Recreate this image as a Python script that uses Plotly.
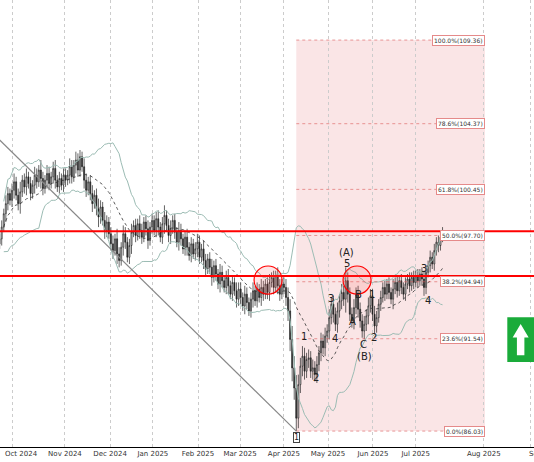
import pandas as pd
import plotly.graph_objects as go

# daily closes, Sep 23 2024 .. Jul 18 2025 (bar index = position)
closes = [97.5, 98.2, 99.0, 99.6, 100.2, 99.8,
          # Oct
          100.4, 100.9, 100.1, 99.6, 100.3, 101.0, 100.6, 101.2, 100.8, 100.2, 100.7, 101.3, 100.9,
          101.6, 101.1, 100.5, 101.0, 101.4, 100.8, 101.2, 101.7, 101.0, 100.6, 101.1, 100.7, 101.3,
          # Nov
          101.0, 101.3, 101.8, 101.2, 101.9, 102.2, 101.6, 102.4, 101.8, 101.0, 100.4, 100.9, 100.2,
          99.6, 100.1, 99.3, 98.8, 99.4, 98.6, 98.0, 98.5, 97.8,
          # Dec
          97.2, 96.8, 97.5, 96.6, 96.2, 97.0, 97.8, 97.3, 96.4, 97.1, 97.9, 98.3, 97.7, 98.4, 98.0,
          97.6, 98.5, 98.1, 97.4, 98.2, 98.6,
          # Jan
          98.0, 98.7, 98.2, 97.6, 98.4, 98.9, 98.3, 97.7, 98.1, 98.6, 97.9, 97.3, 98.0, 97.5, 96.9,
          97.6, 97.0, 96.5, 97.2, 96.6, 96.9, 97.3,
          # Feb
          96.4, 96.9, 96.2, 95.7, 96.3, 95.8, 95.2, 95.9, 95.4, 94.8, 95.5, 95.0, 94.6, 95.2, 94.7,
          94.2, 94.9, 94.4, 93.9, 94.5,
          # Mar
          94.0, 93.5, 94.2, 93.7, 93.2, 93.9, 94.4, 93.8, 94.5, 94.0, 94.6, 94.2, 94.8, 94.3, 94.9,
          95.2, 94.6, 95.3, 94.7, 94.2, 94.8,
          # Apr
          94.6, 94.0, 93.2, 91.5, 89.8, 88.6, 86.8, 88.8, 89.9, 90.5, 89.6, 90.3, 90.4, 89.6, 89.8,
          89.4, 90.0, 90.7, 91.4, 91.0, 91.7,
          # May
          92.0, 92.8, 93.6, 93.0, 92.4, 93.2, 93.8, 94.3, 93.9, 95.0, 94.2, 93.0, 92.6, 93.4, 94.2,
          93.3, 92.6, 92.0, 92.4, 92.9, 93.5, 94.1,
          # Jun
          93.0, 92.3, 92.8, 93.6, 94.0, 94.6, 94.2, 94.8, 94.3, 93.9, 94.5, 94.9, 94.4, 95.0, 94.6,
          94.2, 94.8, 95.1, 94.7, 95.2, 94.9,
          # Jul
          95.3, 95.0, 95.4, 95.1, 94.6, 95.5, 95.9, 96.4, 96.0, 96.8, 97.3, 97.1, 97.6, 97.9]

wicks = [0.3, 0.4, 0.3, 0.5, 0.4, 0.3,
         0.4, 0.5, 0.3, 0.4, 0.6, 0.3, 0.4, 0.5, 0.3, 0.4, 0.3, 0.5, 0.4, 0.3, 0.6, 0.4, 0.3,
         0.5, 0.4, 0.3, 0.4, 0.5, 0.3, 0.4, 0.3, 0.4,
         0.4, 0.3, 0.5, 0.4, 0.3, 0.5, 0.4, 0.4, 0.3, 0.5, 0.4, 0.3, 0.4, 0.5, 0.3, 0.4, 0.6, 0.4,
         0.3, 0.5, 0.4, 0.3,
         0.4, 0.5, 0.3, 0.6, 0.4, 0.3, 0.5, 0.4, 0.3, 0.4, 0.5, 0.3, 0.4, 0.3, 0.5, 0.4, 0.3, 0.4,
         0.5, 0.3, 0.4,
         0.3, 0.4, 0.5, 0.3, 0.4, 0.6, 0.3, 0.4, 0.5, 0.3, 0.4, 0.3, 0.5, 0.4, 0.3, 0.4, 0.5, 0.3,
         0.4, 0.3, 0.4, 0.5,
         0.4, 0.3, 0.5, 0.4, 0.3, 0.4, 0.5, 0.3, 0.4, 0.3, 0.5, 0.4, 0.3, 0.4, 0.5, 0.3, 0.4, 0.3,
         0.5, 0.4,
         0.4, 0.3, 0.5, 0.4, 0.3, 0.4, 0.5, 0.3, 0.4, 0.3, 0.5, 0.4, 0.3, 0.4, 0.5, 0.3, 0.4, 0.3,
         0.5, 0.4, 0.3,
         0.4, 0.5, 0.6, 0.7, 0.8, 0.7, 0.77, 0.6, 0.5, 0.6, 0.5, 0.4, 0.5, 0.4, 0.5, 0.4, 0.5, 0.4,
         0.5, 0.4, 0.5,
         0.4, 0.5, 0.4, 0.5, 0.4, 0.5, 0.4, 0.5, 0.4, 0.8, 0.5, 0.4, 0.4, 0.5, 0.4, 0.5, 0.4, 0.4,
         0.5, 0.4, 0.5, 0.4,
         0.4, 0.5, 0.4, 0.3, 0.4, 0.3, 0.4, 0.3, 0.4, 0.3, 0.6, 0.3, 0.4, 0.3, 0.4, 0.3, 0.4, 0.3,
         0.4, 0.3, 0.4,
         0.3, 0.4, 0.3, 0.4, 0.5, 0.4, 0.3, 0.4, 0.3, 0.4, 0.3, 0.4, 0.3, 0.3]

tick_pos = [6, 31.7, 53.6, 74.4, 96.3, 116.7, 138, 159.4, 181.2, 202, 235, 257.5]
tick_text = ["Oct 2024", "Nov 2024", "Dec 2024", "Jan 2025", "Feb 2025", "Mar 2025",
             "Apr 2025", "May 2025", "Jun 2025", "Jul 2025", "Aug 2025", "Sep 2025"]

fib_pct = ["0.0%", "23.6%", "38.2%", "50.0%", "61.8%", "78.6%", "100.0%"]
fib_val = [86.03, 91.54, 94.94, 97.70, 100.45, 104.37, 109.36]
fib_start, fib_end = 144, 235.6

resistance = [97.95, 95.28]

trend_x = [0, 144]
trend_y = [103.4, 86.03]

wave_labels = [("(A)", 168.6, 96.71), ("5", 168.6, 96.0), ("B", 174, 94.15), ("A", 171.5, 92.54),
               ("C", 176.4, 91.22), ("(B)", 176.9, 90.5), ("1", 180.8, 94.2), ("2", 181.7, 91.64),
               ("1", 147.7, 91.7), ("2", 153.6, 89.2), ("3", 160.9, 93.97), ("4", 162.8, 91.58),
               ("3", 206, 95.76), ("4", 207.9, 93.85)]
circles = [(130.3, 95.04), (173.5, 95.04)]

idx = list(range(len(closes)))
opens = [closes[0] - 0.3] + closes[:-1]
highs = [max(o, c) + w for o, c, w in zip(opens, closes, wicks)]
lows = [min(o, c) - w for o, c, w in zip(opens, closes, wicks)]

s = pd.Series(closes)
mid = s.rolling(20, min_periods=3).mean()
sd = s.rolling(20, min_periods=3).std()
upper, lower = mid + 2 * sd, mid - 2 * sd

fig = go.Figure()

# fibonacci box
fig.add_shape(type="rect", x0=fib_start, x1=fib_end, y0=fib_val[0], y1=fib_val[-1],
              fillcolor="rgba(235,150,155,0.25)", line_width=0, layer="below")
for p, v in zip(fib_pct, fib_val):
    fig.add_shape(type="line", x0=fib_start, x1=fib_end, y0=v, y1=v,
                  line=dict(color="rgba(220,90,90,0.6)", width=1, dash="dot"))
    fig.add_annotation(x=fib_end, y=v, text=f"{p}({v:.2f})", showarrow=False, xanchor="right",
                       font=dict(size=6, color="#333", family="DejaVu Sans"),
                       bgcolor="white", bordercolor="#e58a8a", borderwidth=1, borderpad=1)

fig.add_trace(go.Scatter(x=idx, y=upper, mode="lines", line=dict(color="#9cbcb4", width=1)))
fig.add_trace(go.Scatter(x=idx, y=lower, mode="lines", line=dict(color="#9cbcb4", width=1)))
fig.add_trace(go.Scatter(x=idx, y=mid, mode="lines", line=dict(color="#333", width=0.8, dash="dot")))
fig.add_trace(go.Scatter(x=trend_x, y=trend_y, mode="lines", line=dict(color="#888", width=1.2)))

fig.add_trace(go.Candlestick(x=idx, open=opens, high=highs, low=lows, close=closes,
                             increasing=dict(line=dict(color="#222", width=0.7), fillcolor="white"),
                             decreasing=dict(line=dict(color="#222", width=0.7), fillcolor="#222"),
                             whiskerwidth=0))

for r in resistance:
    fig.add_shape(type="line", xref="paper", x0=0, x1=1, y0=r, y1=r,
                  line=dict(color="red", width=2))

for cx, cy in circles:
    fig.add_shape(type="circle", x0=cx - 6.8, x1=cx + 6.8, y0=cy - 0.84, y1=cy + 0.84,
                  line=dict(color="red", width=1.2), fillcolor="rgba(255,80,80,0.15)")

for t, x, y in wave_labels:
    fig.add_annotation(x=x, y=y, text=t, showarrow=False,
                       font=dict(size=10, color="#222", family="DejaVu Sans"))
fig.add_annotation(x=143.9, y=85.67, text="1", showarrow=False, bgcolor="white",
                   bordercolor="#444", borderwidth=1, borderpad=0,
                   font=dict(size=8, color="#222", family="DejaVu Sans"))

# edge tick labels that plotly would hide
for pos, txt in [(1.6, tick_text[0]), (tick_pos[-1] - 1.5, tick_text[-1])]:
    fig.add_annotation(x=pos, y=0, yref="paper", yanchor="top", xanchor="left", text=txt,
                       showarrow=False, yshift=-1,
                       font=dict(size=7, color="#333", family="DejaVu Sans"))

# green signal box
fig.add_shape(type="rect", xref="paper", yref="paper", x0=0.95, x1=1.0, y0=0.19, y1=0.29,
              fillcolor="#1aab3a", line_width=0)
fig.add_shape(type="path", xref="paper", yref="paper",
              path="M 0.975 0.275 L 0.99 0.245 L 0.982 0.245 L 0.982 0.205 L 0.968 0.205 "
                   "L 0.968 0.245 L 0.96 0.245 Z",
              fillcolor="white", line_width=0)

fig.update_layout(
    width=534, height=462, margin=dict(l=0, r=0, t=0, b=15),
    paper_bgcolor="white", plot_bgcolor="white", showlegend=False,
    xaxis=dict(range=[0.17, 259.4], tickvals=tick_pos, ticktext=[""] + tick_text[1:-1] + [""],
               rangeslider_visible=False,
               showgrid=True, gridcolor="#ccc", griddash="dot", ticks="", showline=True,
               linecolor="black", tickfont=dict(size=7, color="#333", family="DejaVu Sans")),
    yaxis=dict(range=[85.08, 111.75], showgrid=False, showticklabels=False, zeroline=False),
)

fig.write_html("out.html", config={"displayModeBar": False},
               post_script="document.body.style.margin='0';")
